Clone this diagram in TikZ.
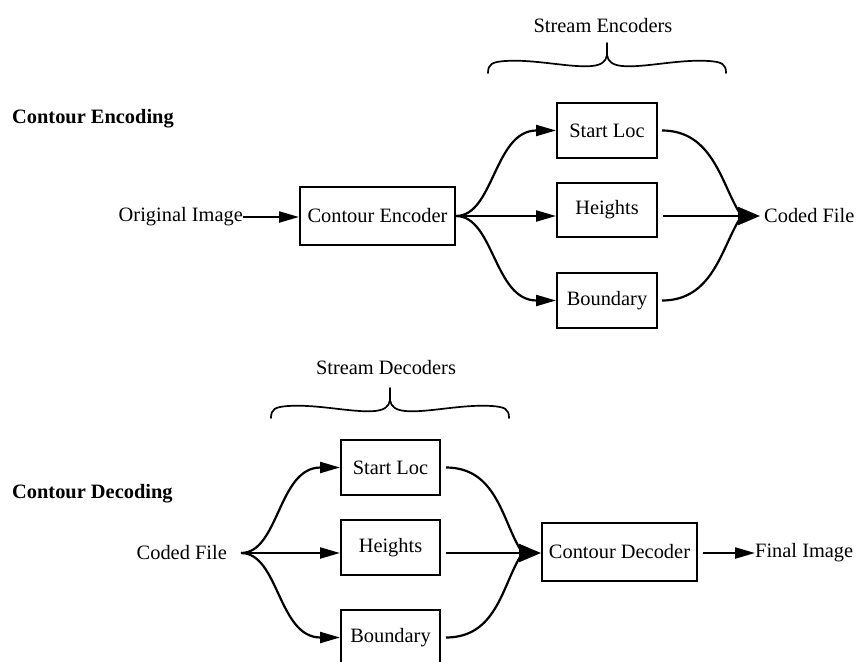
\documentclass[tikz,border=0pt]{standalone}
\usepackage{fontspec}
\setmainfont{Liberation Serif}
\usetikzlibrary{arrows.meta,calc}
\tikzset{
  lbl/.style={inner sep=0pt, font=\fontsize{20.4}{24}\selectfont},
  ttl/.style={inner sep=0pt, font=\fontsize{20.4}{24}\selectfont\bfseries, anchor=west},
  box/.style={draw, line width=2pt, inner sep=0pt, font=\fontsize{20.4}{24}\selectfont},
  wide/.style={box, minimum width=155pt, minimum height=58pt},
  narrow/.style={box, minimum width=100pt, minimum height=55pt},
  conn/.style={line width=2.2pt},
  arr/.style={conn, -{Triangle[length=20pt,width=11pt]}},
  bigarr/.style={conn, -{Triangle[length=22pt,width=18pt]}},
  bracestyle/.style={line width=1.7pt, line cap=round, line join=round},
  mybrace/.pic={
    \draw[bracestyle] (-119,30) .. controls (-119,21) and (-115,19) .. (-102,18)
      .. controls (-72,16) and (-37,25) .. (-15,23)
      .. controls (-6,22) and (-1,19) .. (0,12) -- (0,0);
    \draw[bracestyle] (119,30) .. controls (119,21) and (115,19) .. (102,18)
      .. controls (72,16) and (37,25) .. (15,23)
      .. controls (6,22) and (1,19) .. (0,12);
  }
}
\begin{document}
\begin{tikzpicture}[x=1pt,y=-1pt]
\useasboundingbox (0,0) rectangle (864,661);

% ---------------- Encoding ----------------
\node[ttl] (t1) at (12,119) {Contour Encoding};
\node[lbl] (se) at (603,26) {Stream Encoders};
\pic at (607,43) {mybrace};

\node[lbl, anchor=east] (orig) at (243,217) {Original Image};
\node[wide] (enc) at (377.5,216) {Contour Encoder};
\node[narrow] (sl1) at (607,130.5) {Start Loc};
\node[narrow, minimum height=54pt] (h1) at (607,210) {Heights};
\node[narrow] (b1) at (607,300.5) {Boundary};
\node[lbl, anchor=west] (cf1) at (764,216) {Coded File};
\coordinate (j1) at (760,216);

\draw[arr] (orig.east) -- (orig.east -| enc.west);
\draw[arr] (enc.east) .. controls +(38,0) and +(-62,0) .. (sl1.west);
\draw[arr] (enc.east) -- (enc.east -| h1.west);
\draw[arr] (enc.east) .. controls +(38,0) and +(-62,0) .. (b1.west);

\draw[conn] ($(sl1.east)+(4,0)$) .. controls +(50,0) and +(-18,-30) .. ($(j1)+(-21,-4)$);
\draw[conn] ($(b1.east)+(4,0)$) .. controls +(50,0) and +(-18,30) .. ($(j1)+(-21,4)$);
\draw[bigarr] ($(h1.east|-j1)+(5,0)$) -- (j1);

% ---------------- Decoding ----------------
\node[ttl] (t2) at (12,494) {Contour Decoding};
\node[lbl] (sd) at (386,368) {Stream Decoders};
\pic at (390,388) {mybrace};

\node[lbl, anchor=east] (cf2) at (227,553) {Coded File};
\coordinate (j2) at (241,553);
\node[narrow, minimum width=99pt] (sl2) at (390.5,467.5) {Start Loc};
\node[narrow, minimum width=99pt] (h2) at (390.5,547.5) {Heights};
\node[narrow, minimum width=99pt] (b2) at (390.5,637.5) {Boundary};
\node[wide] (dec) at (619.5,552) {Contour Decoder};
\node[lbl, anchor=west] (fin) at (755,553) {Final Image};

\draw[arr] (j2) .. controls +(38,0) and +(-62,0) .. (sl2.west);
\draw[arr] (j2) -- (j2 -| h2.west);
\draw[arr] (j2) .. controls +(38,0) and +(-62,0) .. (b2.west);

\coordinate (j3) at (dec.west |- j2);
\draw[conn] ($(sl2.east)+(5,0)$) .. controls +(50,0) and +(-18,-30) .. ($(j3)+(-21,-4)$);
\draw[conn] ($(b2.east)+(5,0)$) .. controls +(50,0) and +(-18,30) .. ($(j3)+(-21,4)$);
\draw[bigarr] ($(h2.east|-j3)+(5,0)$) -- (j3);

\draw[arr] ($(dec.east|-fin.west)+(5,0)$) -- (fin.west);
\end{tikzpicture}
\end{document}
